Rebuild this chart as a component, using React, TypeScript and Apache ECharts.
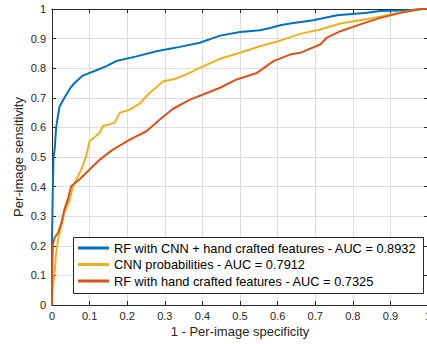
import React, { useEffect, useRef } from "react";
import * as echarts from "echarts";

const seriesNames = [
  "RF with CNN + hand crafted features - AUC = 0.8932",
  "CNN probabilities - AUC = 0.7912",
  "RF with hand crafted features - AUC = 0.7325",
];
const seriesColors = ["#0072BD", "#EDB120", "#D95319"];

const blueFpr = [0, 0, 0.002, 0.004, 0.007, 0.011, 0.016, 0.02, 0.033, 0.047, 0.06, 0.082, 0.118, 0.145, 0.171, 0.225, 0.278, 0.313, 0.34, 0.393, 0.447, 0.5, 0.553, 0.58, 0.607, 0.633, 0.695, 0.758, 0.838, 0.873, 0.945, 0.989, 1];
const blueTpr = [0, 0.22, 0.38, 0.5, 0.525, 0.6, 0.64, 0.67, 0.7, 0.73, 0.75, 0.775, 0.793, 0.807, 0.824, 0.84, 0.857, 0.866, 0.872, 0.886, 0.91, 0.922, 0.928, 0.936, 0.945, 0.951, 0.962, 0.979, 0.987, 0.993, 0.996, 1.0, 1.0];

const orangeFpr = [0, 0, 0.007, 0.011, 0.016, 0.025, 0.033, 0.047, 0.056, 0.065, 0.078, 0.091, 0.1, 0.127, 0.135, 0.167, 0.18, 0.207, 0.233, 0.26, 0.296, 0.322, 0.358, 0.393, 0.447, 0.5, 0.553, 0.607, 0.66, 0.713, 0.767, 0.82, 0.873, 0.927, 0.98, 1];
const orangeTpr = [0, 0.04, 0.11, 0.176, 0.221, 0.266, 0.311, 0.356, 0.401, 0.424, 0.458, 0.503, 0.553, 0.582, 0.604, 0.616, 0.649, 0.66, 0.68, 0.717, 0.756, 0.762, 0.779, 0.801, 0.832, 0.852, 0.874, 0.893, 0.916, 0.931, 0.951, 0.962, 0.974, 0.989, 1.0, 1.0];

const redFpr = [0, 0, 0.002, 0.007, 0.016, 0.025, 0.033, 0.042, 0.051, 0.073, 0.1, 0.127, 0.162, 0.207, 0.251, 0.287, 0.322, 0.367, 0.402, 0.447, 0.491, 0.545, 0.589, 0.633, 0.66, 0.713, 0.731, 0.767, 0.82, 0.873, 0.927, 0.98, 1];
const redTpr = [0, 0.05, 0.2, 0.227, 0.244, 0.278, 0.323, 0.356, 0.401, 0.424, 0.458, 0.491, 0.525, 0.559, 0.587, 0.627, 0.663, 0.694, 0.711, 0.734, 0.762, 0.784, 0.824, 0.846, 0.852, 0.88, 0.903, 0.925, 0.948, 0.97, 0.987, 1.0, 1.0];

const xTitle = "1 - Per-image specificity";
const yTitle = "Per-image sensitivity";

const FONT = "'Liberation Sans', Arial, Helvetica, sans-serif";
const AX = "#262626";

const zip = (xs: number[], ys: number[]) => xs.map((x, i) => [x, ys[i]]);

export default function App() {
  const ref = useRef<HTMLDivElement>(null);
  useEffect(() => {
    if (!ref.current) return;
    const chart = echarts.init(ref.current, undefined, { renderer: "svg" });
    const fmt = (v: number) => (v === 0 ? "0" : v === 1 ? "1" : String(Math.round(v * 10) / 10));
    const baseAxis = {
      type: "value",
      min: 0,
      max: 1,
      interval: 0.1,
    };
    const lines = [
      zip(blueFpr, blueTpr),
      zip(orangeFpr, orangeTpr),
      zip(redFpr, redTpr),
    ];
    chart.setOption({
      animation: false,
      textStyle: { fontFamily: FONT },
      grid: { left: 52, right: -1, top: 9, bottom: 39, outerBoundsMode: "none", containLabel: false },
      xAxis: [
        {
          ...baseAxis,
          position: "bottom",
          name: xTitle,
          nameLocation: "middle",
          nameGap: 20,
          nameMoveOverlap: false,
          nameTextStyle: { fontSize: 13, color: AX, fontFamily: FONT },
          axisLine: { show: true, lineStyle: { color: AX, width: 1 } },
          axisTick: { show: true, inside: true, length: 4, lineStyle: { color: AX } },
          axisLabel: { fontSize: 11, color: AX, margin: 5, formatter: fmt, fontFamily: FONT },
          splitLine: { show: true, lineStyle: { color: "#dedede", width: 1 } },
        },
        {
          ...baseAxis,
          position: "top",
          axisLine: { show: true, onZero: false, lineStyle: { color: AX, width: 1 } },
          axisTick: { show: true, inside: true, length: 4, lineStyle: { color: AX } },
          axisLabel: { show: false },
          splitLine: { show: false },
        },
      ],
      yAxis: [
        {
          ...baseAxis,
          position: "left",
          name: yTitle,
          nameLocation: "middle",
          nameGap: 27,
          nameMoveOverlap: false,
          nameTextStyle: { fontSize: 13, color: AX, fontFamily: FONT },
          axisLine: { show: true, lineStyle: { color: AX, width: 1 } },
          axisTick: { show: true, inside: true, length: 4, lineStyle: { color: AX } },
          axisLabel: { fontSize: 11, color: AX, margin: 6, formatter: fmt, fontFamily: FONT },
          splitLine: { show: true, lineStyle: { color: "#dedede", width: 1 } },
        },
        {
          ...baseAxis,
          position: "right",
          axisLine: { show: true, onZero: false, lineStyle: { color: AX, width: 1 } },
          axisTick: { show: true, inside: true, length: 4, lineStyle: { color: AX } },
          axisLabel: { show: false },
          splitLine: { show: false },
        },
      ],
      legend: {
        show: true,
        orient: "vertical",
        left: 78,
        top: 241,
        padding: 0,
        itemWidth: 31,
        itemHeight: 3,
        itemGap: 2.5,
        icon: "rect",
        z: 5,
        textStyle: { fontSize: 12.8, color: "#000", lineHeight: 14, fontFamily: FONT },
        data: seriesNames,
      },
      graphic: [
        {
          type: "rect",
          z: 4,
          shape: { x: 73.5, y: 237.5, width: 350, height: 56 },
          style: { fill: "#fff", stroke: AX, lineWidth: 1 },
        },
      ],
      series: seriesNames.map((name, i) => ({
        name,
        type: "line",
        xAxisIndex: 0,
        yAxisIndex: 0,
        data: lines[i],
        showSymbol: false,
        symbol: "none",
        lineStyle: { color: seriesColors[i], width: 2 },
        itemStyle: { color: seriesColors[i] },
        z: 2 + i * 0.1,
      })),
    });
    return () => chart.dispose();
  }, []);
  return (
    <div
      ref={ref}
      style={{ position: "fixed", left: 0, top: 0, width: 427, height: 344, background: "#fff" }}
    />
  );
}
